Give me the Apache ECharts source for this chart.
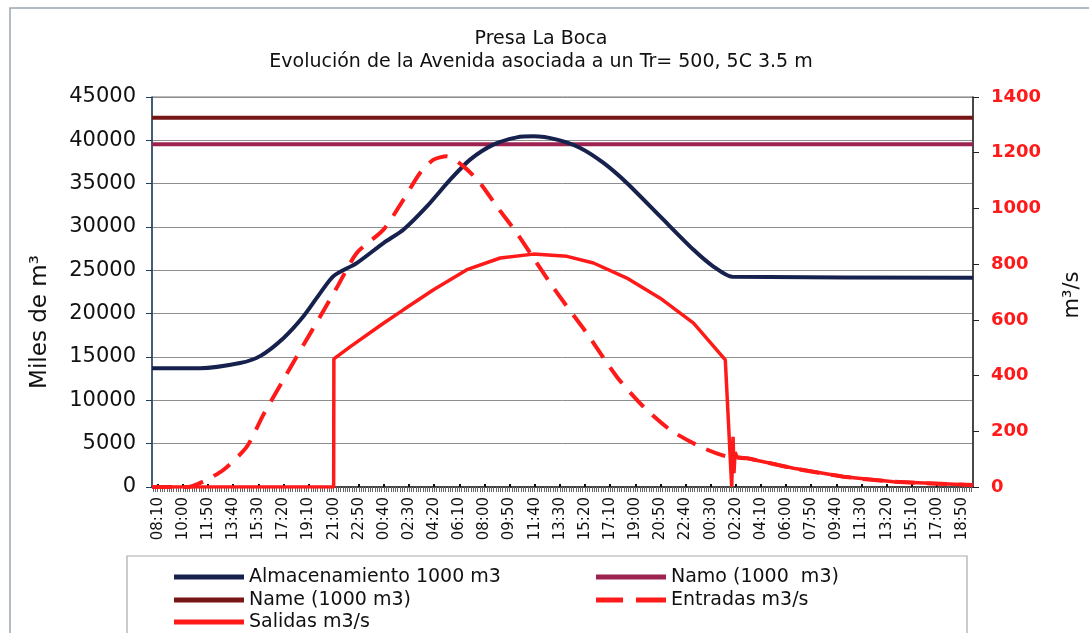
<!DOCTYPE html>
<html>
<head>
<meta charset="utf-8">
<script src="https://cdn.jsdelivr.net/npm/echarts@6/dist/echarts.min.js"></script>
<style>
html,body{margin:0;padding:0;background:#fff;}
#chart{width:1089px;height:633px;}
</style>
</head>
<body>
<div id="chart"></div>
<script>
// ---- Data (x = minutes elapsed since the first label 08:10) ----
const tickLabels = ["08:10","10:00","11:50","13:40","15:30","17:20","19:10","21:00","22:50","00:40","02:30","04:20","06:10","08:00","09:50","11:40","13:30","15:20","17:10","19:00","20:50","22:40","00:30","02:20","04:10","06:00","07:50","09:40","11:30","13:20","15:10","17:00","18:50"];
const tickStep = 110; // minutes between labels
const xStart = -25, xEnd = 3568;

const almT = [-25,185,360,448,550,637,711,770,871,988,1075,1178,1280,1367,1469,1572,1644,1747,1849,1951,2053,2199,2345,2432,2515,3568];
const almV = [13700,13700,14300,15100,17170,19670,22370,24350,25840,28150,29680,32370,35460,37770,39500,40340,40460,40080,39120,37390,35080,31220,27370,25440,24250,24150];

const namoLevel = 39550;
const nameLevel = 42600;

const entT = [-25,130,200,287,390,462,550,637,711,784,871,988,1075,1148,1207,1265,1338,1411,1484,1572,1630,1718,1791,1878,2009,2126,2243,2374,2491,2579,2783,3002,3221,3568];
const entV = [0,0,20,61,145,259,385,509,612,716,840,924,1031,1127,1175,1187,1151,1091,1007,911,840,732,648,552,396,288,205,145,109,103,67,37,19,7];

const salT = [-25,770,771,843,988,1075,1207,1353,1499,1644,1791,1907,2053,2199,2345,2484,2512,2518,2522,2527,2535,2579,2783,3002,3221,3568];
const salV = [0,0,460,504,588,636,708,780,822,836,828,804,750,678,588,456,0,180,50,125,108,103,67,37,19,7];

const leftAxisName = 'Miles de m³';
const rightAxisName = 'm³/s';

const pairs = (t, v) => t.map((x, i) => [x, v[i]]);
const labelVals = tickLabels.map((_, i) => i * tickStep);
const minorVals = [];
for (let m = -20; m <= 3560; m += 10) minorVals.push(m);

const FONT = 'DejaVu Sans';
const solidIcon = 'path://M0,0H70V5H0Z';
const dashIcon = 'path://M0,0H27V5H0Z M40,0H70V5H40Z';
const legendText = { fontFamily: FONT, fontSize: 19, color: '#111', lineHeight: 20 };
const oneLegend = (name, icon, left, top) => ({
  data: [{ name: name, icon: icon }],
  left: left, top: top, padding: 0, itemWidth: 70, itemHeight: 5, itemGap: 0,
  textStyle: legendText
});

const chart = echarts.init(document.getElementById('chart'));
chart.setOption({
  backgroundColor: '#fff',
  animation: false,
  textStyle: { fontFamily: FONT },
  title: {
    text: 'Presa La Boca\nEvolución de la Avenida asociada a un Tr= 500, 5C 3.5 m',
    left: 536, top: 23, textAlign: 'center',
    textStyle: { fontFamily: FONT, fontSize: 19, fontWeight: 'normal', color: '#111', lineHeight: 23 }
  },
  graphic: [
    { type: 'rect', shape: { x: 10, y: 8, width: 1085, height: 632 }, style: { fill: 'none', stroke: '#9aa6b0', lineWidth: 1.5 }, silent: true },
    { type: 'rect', shape: { x: 127, y: 556, width: 840, height: 85 }, style: { fill: 'none', stroke: '#aaaaaa', lineWidth: 1.2 }, silent: true },
    { type: 'text', x: 40, y: 322, rotation: Math.PI / 2, silent: true,
      style: { text: leftAxisName, font: '23px "DejaVu Sans"', fill: '#111', align: 'center', verticalAlign: 'middle' } },
    { type: 'text', x: 1073, y: 295, rotation: Math.PI / 2, silent: true,
      style: { text: rightAxisName, font: '21px "DejaVu Sans"', fill: '#111', align: 'center', verticalAlign: 'middle' } }
  ],
  legend: [
    oneLegend('Almacenamiento 1000 m3', solidIcon, 174, 567),
    oneLegend('Name (1000 m3)', solidIcon, 174, 590),
    oneLegend('Salidas m3/s', solidIcon, 174, 612),
    oneLegend('Namo (1000  m3)', solidIcon, 596, 567),
    oneLegend('Entradas m3/s', dashIcon, 596, 590)
  ],
  grid: { left: 152, right: 116, top: 97, bottom: 146, show: true, borderColor: '#777', borderWidth: 1 },
  xAxis: [
    {
      type: 'value', min: xStart, max: xEnd,
      axisLine: { show: true, onZero: false, lineStyle: { color: '#222', width: 1.5 } },
      axisTick: { show: true, customValues: labelVals, inside: true, length: 3, lineStyle: { color: '#111', width: 2 } },
      axisLabel: {
        customValues: labelVals, rotate: 90, margin: 10, padding: [0, 0, 8, 0],
        fontFamily: FONT, fontSize: 15, color: '#111',
        formatter: v => tickLabels[Math.round(v / tickStep)]
      },
      splitLine: { show: false }
    },
    {
      type: 'value', min: xStart, max: xEnd, position: 'bottom',
      axisLine: { show: false, onZero: false },
      axisTick: { show: true, customValues: minorVals, length: 5, lineStyle: { color: '#666', width: 1 } },
      axisLabel: { show: false },
      splitLine: { show: false }
    }
  ],
  yAxis: [
    {
      type: 'value', min: 0, max: 45000, interval: 5000, position: 'left',
      axisLine: { show: true, onZero: false, lineStyle: { color: '#1f3d5c', width: 1.5 } },
      axisTick: { show: true, length: 6, lineStyle: { color: '#1f3d5c' } },
      axisLabel: { fontFamily: FONT, fontSize: 21, color: '#111', margin: 16, formatter: v => String(v) },
      splitLine: { show: true, lineStyle: { color: '#8e8e8e', width: 1 } }
    },
    {
      type: 'value', min: 0, max: 1400, interval: 200, position: 'right',
      axisLine: { show: true, onZero: false, lineStyle: { color: '#222', width: 1.5 } },
      axisTick: { show: true, length: 6, lineStyle: { color: '#222' } },
      axisLabel: { fontFamily: FONT, fontSize: 18, fontWeight: 'bold', color: '#ff1a1a', margin: 18, formatter: v => String(v) },
      splitLine: { show: false }
    }
  ],
  series: [
    {
      name: 'Almacenamiento 1000 m3', type: 'line', yAxisIndex: 0, xAxisIndex: 0,
      data: pairs(almT, almV), showSymbol: false, symbol: 'none',
      smooth: 0.25,
      lineStyle: { color: '#16214d', width: 4 }, itemStyle: { color: '#16214d' }, z: 4
    },
    {
      name: 'Namo (1000  m3)', type: 'line', yAxisIndex: 0, xAxisIndex: 0,
      data: [[xStart, namoLevel], [xEnd, namoLevel]], showSymbol: false, symbol: 'none',
      lineStyle: { color: '#9c2350', width: 4 }, itemStyle: { color: '#9c2350' }, z: 3
    },
    {
      name: 'Name (1000 m3)', type: 'line', yAxisIndex: 0, xAxisIndex: 0,
      data: [[xStart, nameLevel], [xEnd, nameLevel]], showSymbol: false, symbol: 'none',
      lineStyle: { color: '#761616', width: 4 }, itemStyle: { color: '#761616' }, z: 3
    },
    {
      name: 'Entradas m3/s', type: 'line', yAxisIndex: 1, xAxisIndex: 0,
      data: pairs(entT, entV), showSymbol: false, symbol: 'none',
      smooth: 0.25,
      lineStyle: { color: '#ff1a1a', width: 4, type: [20, 12] }, itemStyle: { color: '#ff1a1a' }, z: 5
    },
    {
      name: 'Salidas m3/s', type: 'line', yAxisIndex: 1, xAxisIndex: 0,
      data: pairs(salT, salV), showSymbol: false, symbol: 'none',
      lineStyle: { color: '#ff1a1a', width: 3.5 }, itemStyle: { color: '#ff1a1a' }, z: 5
    }
  ]
});
</script>
</body>
</html>
